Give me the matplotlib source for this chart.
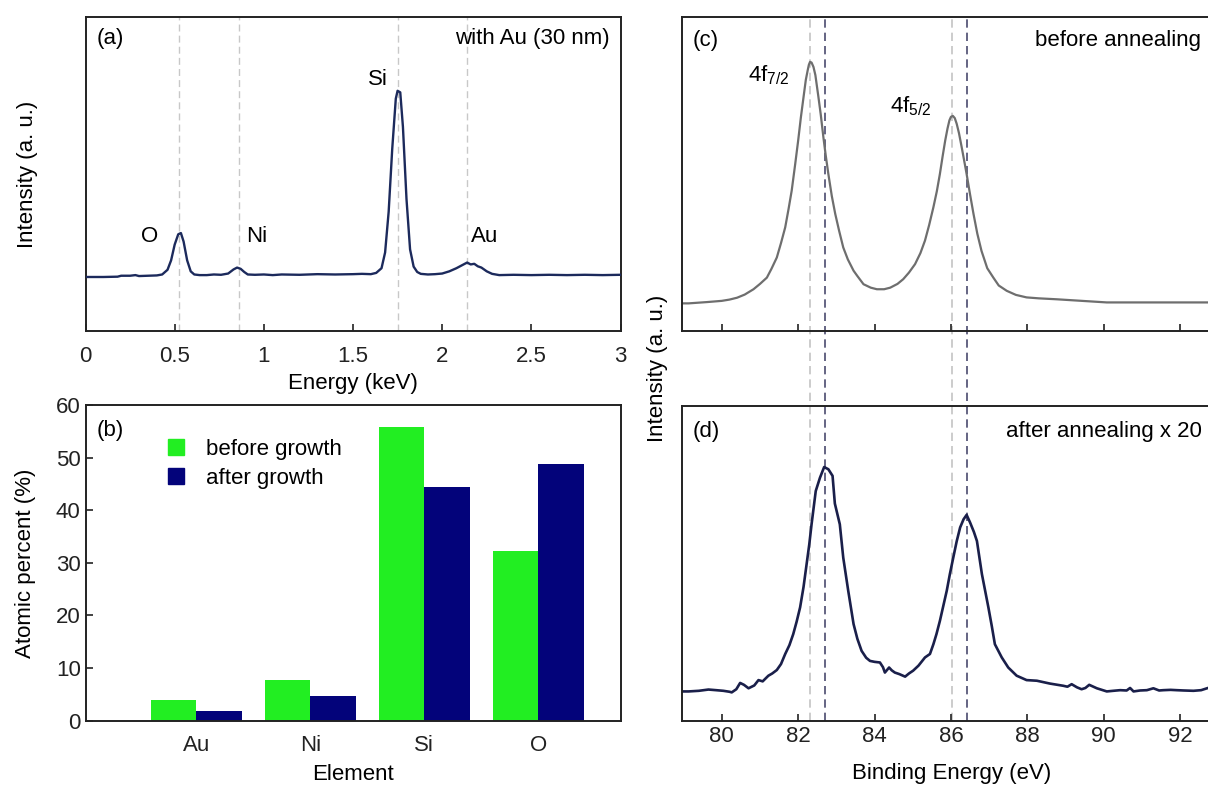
import matplotlib
matplotlib.use('Agg')
import matplotlib.pyplot as plt
from matplotlib.lines import Line2D

plt.rcParams['font.family'] = ['Liberation Sans', 'DejaVu Sans']
plt.rcParams['mathtext.fontset'] = 'custom'
plt.rcParams['mathtext.rm'] = 'Liberation Sans'
plt.rcParams['mathtext.default'] = 'regular'
plt.rcParams['font.size'] = 16

# (a) EDS spectrum, energy in keV, intensity in arbitrary units
eds_energy = [0.00, 0.10, 0.18, 0.20, 0.25, 0.28, 0.30, 0.35, 0.40, 0.43, 0.46, 0.48,
              0.50, 0.52, 0.535, 0.55, 0.57, 0.59, 0.61, 0.64, 0.68, 0.72, 0.76, 0.80,
              0.83, 0.85, 0.87, 0.89, 0.91, 0.95, 1.00, 1.05, 1.10, 1.20, 1.30, 1.40,
              1.50, 1.55, 1.60, 1.63, 1.66, 1.68, 1.70, 1.72, 1.74, 1.75, 1.765, 1.78,
              1.80, 1.82, 1.84, 1.86, 1.88, 1.92, 1.96, 2.00, 2.04, 2.08, 2.12, 2.14,
              2.16, 2.18, 2.20, 2.22, 2.25, 2.28, 2.32, 2.40, 2.50, 2.60, 2.70, 2.80,
              2.90, 3.00]
eds_counts = [0.172, 0.172, 0.173, 0.176, 0.176, 0.178, 0.175, 0.176, 0.177, 0.180, 0.195, 0.225,
              0.275, 0.308, 0.312, 0.285, 0.225, 0.190, 0.180, 0.178, 0.178, 0.180, 0.179, 0.183,
              0.196, 0.202, 0.198, 0.188, 0.180, 0.179, 0.180, 0.178, 0.180, 0.179, 0.181, 0.180,
              0.181, 0.182, 0.181, 0.185, 0.200, 0.250, 0.380, 0.580, 0.740, 0.765, 0.760, 0.650,
              0.420, 0.260, 0.205, 0.188, 0.182, 0.180, 0.181, 0.183, 0.190, 0.200, 0.212, 0.218,
              0.212, 0.214, 0.206, 0.202, 0.190, 0.182, 0.178, 0.179, 0.178, 0.179, 0.178, 0.179,
              0.178, 0.179]
eds_lines = [0.527, 0.86, 1.751, 2.14]
eds_labels = ['O', 'Ni', 'Si', 'Au']

# (b) composition
elements = ['Au', 'Ni', 'Si', 'O']
before_growth = [3.9, 7.8, 55.8, 32.3]
after_growth = [1.8, 4.7, 44.5, 48.7]

# (c) XPS Au 4f before annealing
xps_c_energy = [78.95, 79.13, 79.6, 80.0, 80.2, 80.4, 80.6, 80.83, 81.0, 81.18, 81.30, 81.44,
                81.55, 81.66, 81.75, 81.83, 81.92, 82.0, 82.07, 82.14, 82.20, 82.25, 82.28,
                82.31, 82.35, 82.40, 82.45, 82.53, 82.59, 82.66, 82.72, 82.79, 82.88,
                82.97, 83.07, 83.18, 83.30, 83.45, 83.55, 83.71, 83.90, 84.06, 84.25,
                84.41, 84.60, 84.75, 84.90, 85.06, 85.20, 85.32, 85.43, 85.54, 85.63,
                85.71, 85.78, 85.85, 85.91, 85.96, 86.00, 86.05, 86.10, 86.15, 86.21,
                86.28, 86.35, 86.41, 86.50, 86.59, 86.69, 86.80, 86.95, 87.11, 87.25,
                87.46, 87.70, 87.98, 88.30, 88.77, 90.08, 92.69, 94.0]
xps_c_counts = [0.088, 0.088, 0.092, 0.096, 0.100, 0.106, 0.116, 0.133, 0.150, 0.170, 0.198,
                0.234, 0.280, 0.330, 0.390, 0.447, 0.530, 0.607, 0.680, 0.745, 0.800,
                0.831, 0.848, 0.857, 0.855, 0.841, 0.815, 0.745, 0.690, 0.617, 0.560,
                0.500, 0.430, 0.373, 0.320, 0.266, 0.228, 0.192, 0.175, 0.149, 0.138,
                0.133, 0.133, 0.138, 0.150, 0.165, 0.186, 0.213, 0.248, 0.288, 0.338,
                0.394, 0.445, 0.500, 0.555, 0.607, 0.645, 0.671, 0.682, 0.685, 0.678,
                0.660, 0.630, 0.586, 0.540, 0.500, 0.435, 0.373, 0.310, 0.255, 0.200,
                0.170, 0.145, 0.128, 0.115, 0.107, 0.104, 0.101, 0.091, 0.091, 0.091]

# (d) XPS Au 4f after annealing (x 20)
xps_d_energy = [78.95, 79.13, 79.4, 79.65, 79.85, 80.04, 80.2, 80.26, 80.38, 80.48, 80.58,
                80.70, 80.85, 80.96, 81.07, 81.22, 81.32, 81.44, 81.55, 81.66, 81.77,
                81.87, 81.96, 82.05, 82.14, 82.22, 82.29, 82.35, 82.46, 82.57, 82.68,
                82.79, 82.90, 82.96, 83.09, 83.18, 83.31, 83.45, 83.55, 83.66, 83.78,
                83.88, 84.00, 84.14, 84.22, 84.27, 84.38, 84.45, 84.53, 84.65, 84.80,
                84.90, 85.01, 85.15, 85.32, 85.45, 85.54, 85.62, 85.71, 85.80, 85.89,
                85.97, 86.06, 86.15, 86.24, 86.33, 86.41, 86.50, 86.60, 86.68, 86.81,
                86.98, 87.07, 87.15, 87.33, 87.50, 87.72, 87.98, 88.25, 88.59, 88.94,
                89.05, 89.16, 89.30, 89.42, 89.52, 89.62, 89.82, 90.08, 90.25, 90.43,
                90.60, 90.69, 90.78, 90.95, 91.13, 91.30, 91.45, 91.56, 91.75, 91.91,
                92.10, 92.35, 92.55, 92.73, 93.0, 94.0]
xps_d_counts = [0.093, 0.093, 0.095, 0.099, 0.097, 0.095, 0.092, 0.090, 0.100, 0.120, 0.114,
                0.103, 0.112, 0.129, 0.125, 0.143, 0.150, 0.161, 0.180, 0.212, 0.240,
                0.275, 0.315, 0.360, 0.425, 0.497, 0.560, 0.624, 0.730, 0.772, 0.806,
                0.799, 0.778, 0.690, 0.624, 0.518, 0.413, 0.307, 0.260, 0.222, 0.200,
                0.190, 0.187, 0.185, 0.170, 0.153, 0.169, 0.160, 0.153, 0.148, 0.140,
                0.150, 0.159, 0.175, 0.201, 0.212, 0.243, 0.275, 0.317, 0.365, 0.413,
                0.465, 0.518, 0.570, 0.614, 0.640, 0.654, 0.630, 0.600, 0.571, 0.466,
                0.360, 0.300, 0.243, 0.201, 0.169, 0.143, 0.129, 0.127, 0.118, 0.111,
                0.108, 0.116, 0.106, 0.100, 0.104, 0.114, 0.103, 0.093, 0.095, 0.097,
                0.096, 0.104, 0.093, 0.096, 0.097, 0.103, 0.096, 0.097, 0.098, 0.097,
                0.096, 0.095, 0.097, 0.104, 0.100, 0.100]
be_before = [82.32, 86.04]
be_after = [82.69, 86.41]

W, H = 1208, 787
fig = plt.figure(figsize=(W / 100, H / 100), dpi=100)


def box(x0, y0, x1, y1):
    # pixel box -> figure fraction [left, bottom, width, height]
    return [x0 / W, 1 - y1 / H, (x1 - x0) / W, (y1 - y0) / H]


def style(ax):
    for s in ax.spines.values():
        s.set_linewidth(1.4)
        s.set_color('#222222')
    ax.tick_params(direction='in', length=5, width=1.2, labelsize=16, colors='#222222')


# ---- (a) ----
ax_a = fig.add_axes(box(85.5, 17, 620.5, 331))
for e in eds_lines:
    ax_a.axvline(e, color='#c8c8c8', lw=1, ls=(0, (5, 3)), zorder=1)
ax_a.plot(eds_energy, eds_counts, color='#1c2a5c', lw=1.7, zorder=3)
ax_a.set_xlim(0, 3)
ax_a.set_ylim(0, 1)
ax_a.set_xticks([0, 0.5, 1, 1.5, 2, 2.5, 3])
ax_a.set_xticklabels(['0', '0.5', '1', '1.5', '2', '2.5', '3'])
ax_a.set_yticks([])
style(ax_a)
ax_a.tick_params(axis='x', pad=11)
ax_a.set_xlabel('Energy (keV)', fontsize=16, labelpad=4)
ax_a.set_ylabel('Intensity (a. u.)', fontsize=16, labelpad=34)
ax_a.text(0.02, 0.93, '(a)', transform=ax_a.transAxes, va='center', ha='left')
ax_a.text(0.98, 0.93, 'with Au (30 nm)', transform=ax_a.transAxes, va='center', ha='right')
label_pos = [(0.36, 0.30), (0.96, 0.30), (1.64, 0.80), (2.24, 0.30)]
for lab, (lx, ly) in zip(eds_labels, label_pos):
    ax_a.text(lx, ly, lab, ha='center', va='center')

# ---- (b) ----
ax_b = fig.add_axes(box(85.5, 405, 620.5, 720.7))
xpos = [1, 2, 3, 4]
ax_b.bar([x - 0.2 for x in xpos], before_growth, width=0.4, color='#22ee22', label='before growth')
ax_b.bar([x + 0.2 for x in xpos], after_growth, width=0.4, color='#03037a', label='after growth')
ax_b.set_xlim(0.03, 4.72)
ax_b.set_ylim(0, 60)
ax_b.set_xticks(xpos)
ax_b.set_xticklabels(elements)
ax_b.set_yticks(range(0, 61, 10))
style(ax_b)
ax_b.tick_params(axis='x', length=0, pad=10)
ax_b.set_xlabel('Element', fontsize=16, labelpad=6)
ax_b.set_ylabel('Atomic percent (%)', fontsize=16, labelpad=14)
ax_b.text(0.02, 0.92, '(b)', transform=ax_b.transAxes, va='center', ha='left')
handles = [Line2D([], [], ls='', marker='s', ms=11, color='#22ee22'),
           Line2D([], [], ls='', marker='s', ms=11, color='#03037a')]
ax_b.legend(handles, ['before growth', 'after growth'], loc='upper left',
            bbox_to_anchor=(0.09, 0.955), frameon=False, handletextpad=0.35,
            labelspacing=0.35, fontsize=16)

# ---- (c) / (d) ----
xlo, xhi = 78.95, 94.0
x0_c = 681.7
x1_c = 721.7 + (xhi - 80) * 38.2

ax_lines = fig.add_axes(box(x0_c, 17, x1_c, 720.7), zorder=0)
ax_lines.set_xlim(xlo, xhi)
ax_lines.axis('off')
for e in be_before:
    ax_lines.axvline(e, color='#c4c4c4', lw=1.2, ls=(0, (5, 3)))
for e in be_after:
    ax_lines.axvline(e, color='#4a4a6e', lw=1.2, ls=(0, (5, 3)))

ax_c = fig.add_axes(box(x0_c, 17, x1_c, 331), zorder=1)
ax_c.patch.set_alpha(0)
ax_c.plot(xps_c_energy, xps_c_counts, color='#6e6e6e', lw=1.6)
ax_c.set_xlim(xlo, xhi)
ax_c.set_ylim(0, 1)
ax_c.set_xticks(range(80, 93, 2))
ax_c.set_xticklabels([])
ax_c.set_yticks([])
style(ax_c)
ax_c.text(0.019, 0.925, '(c)', transform=ax_c.transAxes, va='center', ha='left')
ax_c.text(0.615, 0.925, 'before annealing', transform=ax_c.transAxes, va='center', ha='left')
ax_c.text(81.22, 0.815, r'4f$_{7/2}$', ha='center', va='center')
ax_c.text(84.95, 0.715, r'4f$_{5/2}$', ha='center', va='center')

ax_d = fig.add_axes(box(x0_c, 406, x1_c, 720.7), zorder=1)
ax_d.patch.set_alpha(0)
ax_d.plot(xps_d_energy, xps_d_counts, color='#1a1f4a', lw=1.9)
ax_d.set_xlim(xlo, xhi)
ax_d.set_ylim(0, 1)
ax_d.set_xticks(range(80, 93, 2))
ax_d.set_yticks([])
style(ax_d)
ax_d.set_xlabel('Binding Energy (eV)', fontsize=16)
ax_d.xaxis.set_label_coords(0.47, -0.135)
ax_d.text(0.019, 0.92, '(d)', transform=ax_d.transAxes, va='center', ha='left')
ax_d.text(0.565, 0.92, 'after annealing x 20', transform=ax_d.transAxes, va='center', ha='left')

fig.text(658 / W, 1 - 368 / H, 'Intensity (a. u.)', rotation=90, ha='center', va='center',
         fontsize=16)

fig.savefig('out.png', dpi=100)
